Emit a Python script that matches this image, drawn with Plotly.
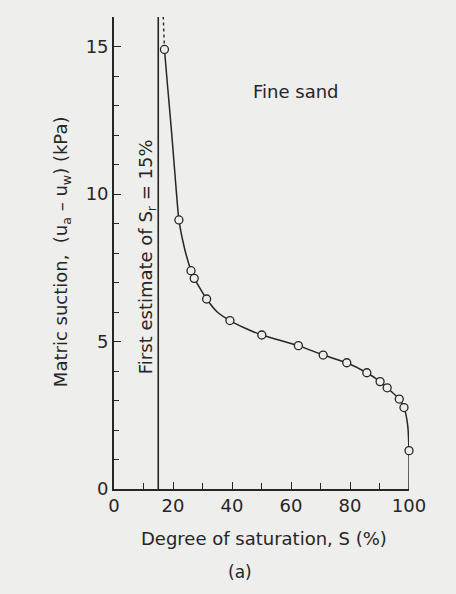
import plotly.graph_objects as go

# Measured points: degree of saturation S (%) vs matric suction (kPa)
sat_points = [17.1, 22.0, 26.1, 27.2, 31.4, 39.3, 50.1, 62.5, 70.9, 78.9, 85.7, 90.2, 92.6, 96.7, 98.3, 100.0]
suction_points = [14.9, 9.12, 7.40, 7.14, 6.44, 5.71, 5.22, 4.86, 4.54, 4.28, 3.94, 3.64, 3.43, 3.05, 2.76, 1.30]

# Hand-drawn fitted curve through the points
sat_curve = [17.1, 18.3, 19.6, 20.8, 22.0, 24.0, 26.1, 27.2, 31.4, 35.0, 39.3, 44.5, 50.1, 62.5, 70.9, 78.9,
             85.7, 90.2, 92.6, 96.7, 98.3, 99.5, 100.0, 100.0]
suction_curve = [14.9, 13.5, 12.0, 10.5, 9.12, 8.12, 7.40, 7.14, 6.44, 6.0, 5.71, 5.45, 5.22, 4.86, 4.54, 4.28,
                 3.94, 3.64, 3.43, 3.05, 2.76, 2.2, 1.30, 0.0]

# Dashed continuation above the last point
sat_dash = [17.1, 16.7]
suction_dash = [14.9, 16.0]

# First estimate of residual saturation
sr_value = [15, 15]
sr_suction = [0, 16]

x_ticks = [0, 20, 40, 60, 80, 100]
y_ticks = [0, 5, 10, 15]

ink = "#262626"
bg = "#eeeeec"
font = "DejaVu Sans"

fig = go.Figure()
fig.add_trace(go.Scatter(x=sr_value, y=sr_suction, mode="lines",
                         line=dict(color=ink, width=1.6), hoverinfo="skip"))
fig.add_trace(go.Scatter(x=sat_dash, y=suction_dash, mode="lines",
                         line=dict(color=ink, width=1.4, dash="3px,3px"), hoverinfo="skip"))
fig.add_trace(go.Scatter(x=sat_curve, y=suction_curve, mode="lines",
                         line=dict(color=ink, width=1.5, shape="spline", smoothing=0.5), hoverinfo="skip"))
fig.add_trace(go.Scatter(x=sat_points, y=suction_points, mode="markers", cliponaxis=False,
                         marker=dict(symbol="circle", size=8, color=bg,
                                     line=dict(color=ink, width=1.3))))

fig.update_layout(
    width=456, height=594,
    margin=dict(l=114, r=47, t=17, b=105),
    paper_bgcolor=bg, plot_bgcolor=bg,
    showlegend=False,
    font=dict(family=font, size=18, color=ink),
)
fig.update_xaxes(range=[0, 100], tickvals=x_ticks, ticks="inside", ticklen=7, tickwidth=1.4,
                 tickcolor=ink, showline=True, linecolor=ink, linewidth=1.7, showgrid=False,
                 zeroline=False, tickfont=dict(size=18, family=font, color=ink),
                 minor=dict(tickmode="linear", tick0=0, dtick=10, ticks="inside", ticklen=6,
                            tickcolor=ink, tickwidth=1.4, showgrid=False))
fig.update_yaxes(range=[0, 16], tickvals=y_ticks, ticks="inside", ticklen=7, tickwidth=1.4,
                 tickcolor=ink, showline=True, linecolor=ink, linewidth=1.7, showgrid=False,
                 zeroline=False, tickfont=dict(size=18, family=font, color=ink),
                 minor=dict(tickmode="linear", tick0=0, dtick=1, ticks="inside", ticklen=5,
                            tickcolor=ink, tickwidth=1.4, showgrid=False))

fig.add_annotation(text="Degree of saturation, S (%)", xref="paper", yref="paper",
                   x=0.507, y=-0.104, showarrow=False, xanchor="center", yanchor="middle",
                   font=dict(size=18, family=font, color=ink))
fig.add_annotation(text="(a)", xref="paper", yref="paper",
                   x=0.427, y=-0.176, showarrow=False, xanchor="center", yanchor="middle",
                   font=dict(size=17, family=font, color=ink))
fig.add_annotation(text="Matric suction,  (u<sub>a</sub> – u<sub>w</sub>) (kPa)", xref="paper", yref="paper",
                   x=-0.176, y=0.502, showarrow=False, textangle=-90, xanchor="center", yanchor="middle",
                   font=dict(size=18, family=font, color=ink))
fig.add_annotation(text="First estimate of S<sub>r</sub> = 15%", xref="x", yref="y",
                   x=11.2, y=7.86, showarrow=False, textangle=-90, xanchor="center", yanchor="middle",
                   font=dict(size=18, family=font, color=ink))
fig.add_annotation(text="Fine sand", xref="x", yref="y",
                   x=61.7, y=13.46, showarrow=False, xanchor="center", yanchor="middle",
                   font=dict(size=18, family=font, color=ink))

fig.write_html("out.html")
